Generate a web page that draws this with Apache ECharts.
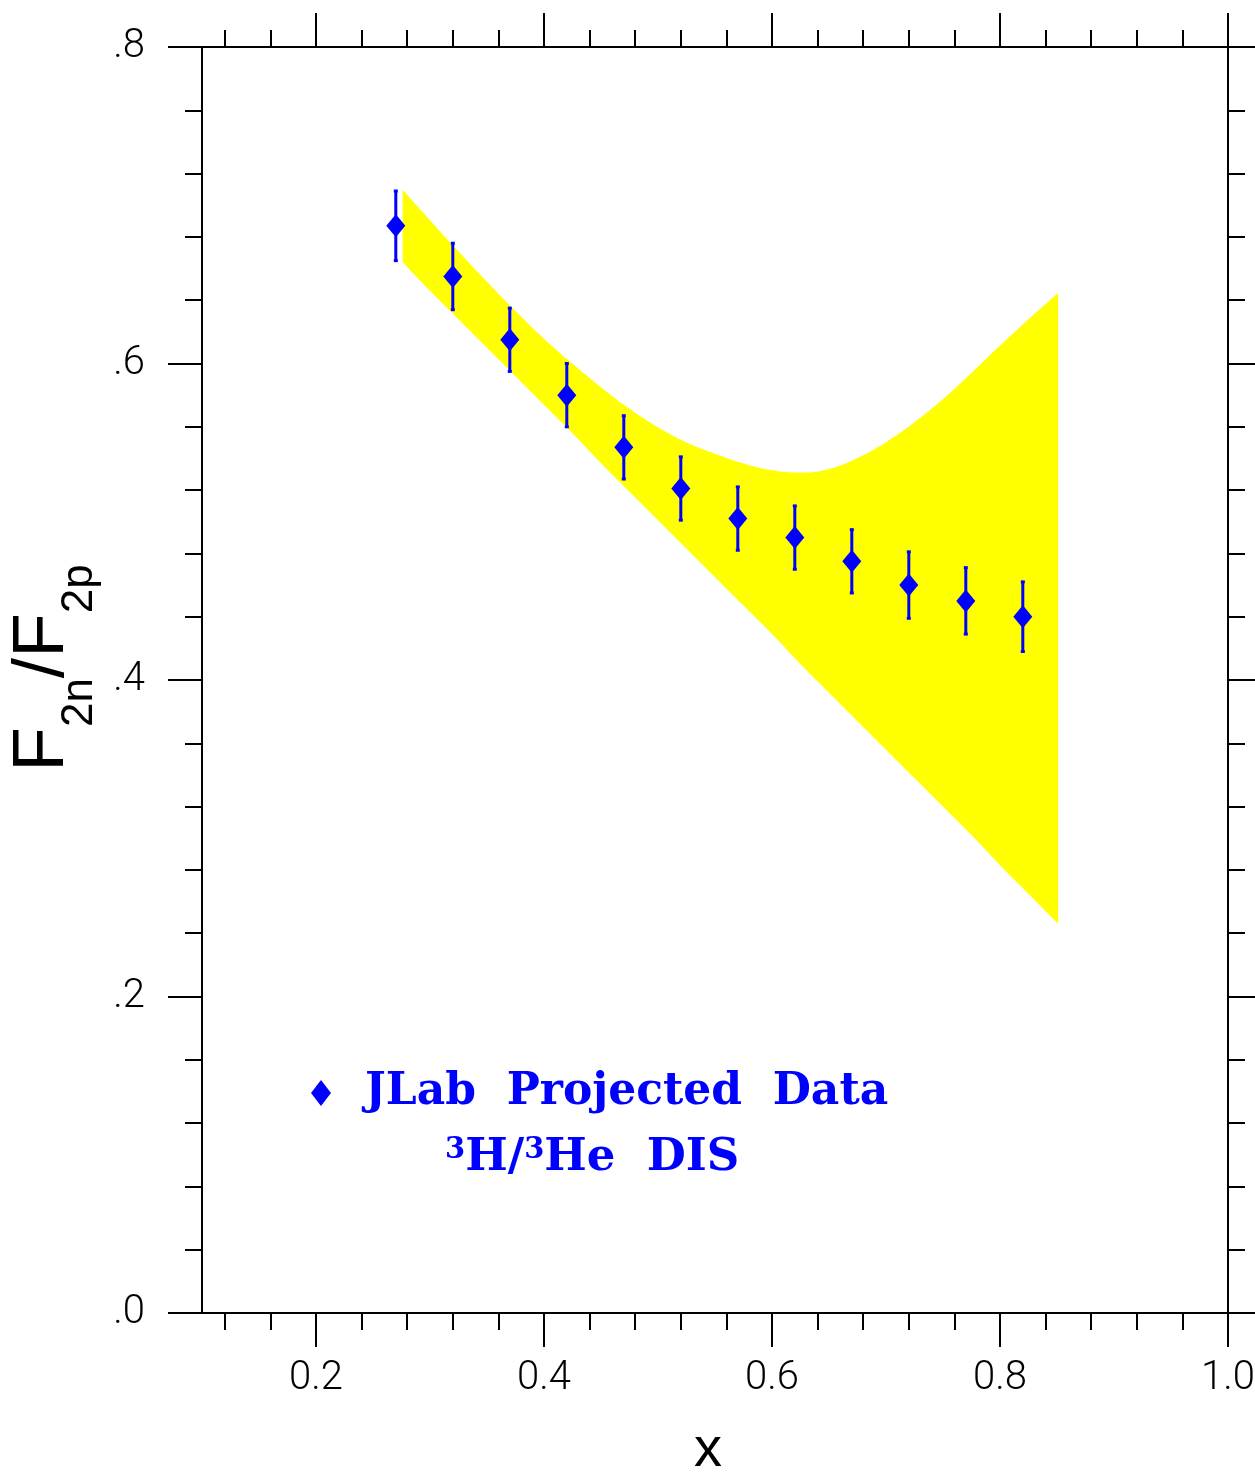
<!DOCTYPE html>
<html>
<head>
<meta charset="utf-8">
<script src="https://cdn.jsdelivr.net/npm/echarts@6/dist/echarts.min.js"></script>
<style>
html, body { margin: 0; padding: 0; background: #fff; }
#chart { width: 1255px; height: 1474px; }
</style>
</head>
<body>
<div id="chart"></div>
<script>
// projected points, F2n/F2p vs x
const xData = [0.27, 0.32, 0.37, 0.42, 0.47, 0.52, 0.57, 0.62, 0.67, 0.72, 0.77, 0.82]
const yData = [0.687, 0.655, 0.615, 0.580, 0.547, 0.521, 0.502, 0.490, 0.475, 0.460, 0.450, 0.440]
const yErr = [0.022, 0.021, 0.020, 0.020, 0.020, 0.020, 0.020, 0.020, 0.020, 0.021, 0.021, 0.022]

// yellow model band
const bandX = [0.276, 0.30, 0.325, 0.35, 0.375, 0.40, 0.425, 0.45, 0.475, 0.50, 0.525, 0.55,
  0.575, 0.60, 0.625, 0.65, 0.675, 0.70, 0.725, 0.75, 0.775, 0.80, 0.825, 0.851]
const bandUpper = [0.7098, 0.6906, 0.6708, 0.6516, 0.6331, 0.6156, 0.5998, 0.5850, 0.5714, 0.5597, 0.5501, 0.5430,
  0.5368, 0.5325, 0.5310, 0.5333, 0.5403, 0.5503, 0.5628, 0.5775, 0.5940, 0.6113, 0.6280, 0.6446]
const bandLower = [0.664, 0.646, 0.628, 0.610, 0.592, 0.574, 0.556, 0.537, 0.519, 0.501, 0.483, 0.465,
  0.447, 0.429, 0.410, 0.392, 0.374, 0.356, 0.338, 0.320, 0.302, 0.283, 0.265, 0.246]

// ticks
const xMajor = [0.2, 0.4, 0.6, 0.8, 1.0]
const xMinor = [0.12, 0.16, 0.24, 0.28, 0.32, 0.36, 0.44, 0.48, 0.52, 0.56, 0.64, 0.68, 0.72, 0.76, 0.84, 0.88, 0.92, 0.96]
const yMajor = [0, 0.2, 0.4, 0.6, 0.8]
const yMinor = [0.04, 0.08, 0.12, 0.16, 0.24, 0.28, 0.32, 0.36, 0.44, 0.48, 0.52, 0.56, 0.64, 0.68, 0.72, 0.76]

const BLUE = '#0000ff'
const YELLOW = '#ffff00'
const labelFont = { fontFamily: 'Roboto', fontWeight: 300, fontSize: 40, color: '#000' }

const makeAxis = (position, min, max, ticks, len, label) => ({
  type: 'value',
  position: position,
  min: min,
  max: max,
  gridIndex: 0,
  axisLine: { show: true, onZero: false, lineStyle: { color: '#000', width: 2 } },
  axisTick: { show: true, inside: false, length: len, customValues: ticks, lineStyle: { color: '#000', width: 2 } },
  splitLine: { show: false },
  axisLabel: label ? Object.assign({ show: true, customValues: ticks }, label) : { show: false }
})

const xAxes = [
  makeAxis('bottom', 0.1, 1.0, xMajor, 34, Object.assign({ margin: 46, formatter: v => v.toFixed(1) }, labelFont)),
  makeAxis('bottom', 0.1, 1.0, xMinor, 17),
  makeAxis('top', 0.1, 1.0, xMajor, 34),
  makeAxis('top', 0.1, 1.0, xMinor, 17)
]
xAxes[0].name = 'x'
xAxes[0].nameLocation = 'middle'
xAxes[0].nameGap = 110
xAxes[0].nameTextStyle = { fontFamily: 'Liberation Sans', fontSize: 56, color: '#000', padding: [0, 14, 0, 0] }

const yAxes = [
  makeAxis('left', 0, 0.8, yMajor, 34, Object.assign({ margin: 57, formatter: v => v.toFixed(1).replace(/^0/, '') }, labelFont)),
  makeAxis('left', 0, 0.8, yMinor, 17),
  makeAxis('right', 0, 0.8, yMajor, 34),
  makeAxis('right', 0, 0.8, yMinor, 17)
]
yAxes[0].name = '{F|F}{s|2n}{F|/F}{s|2p}'
yAxes[0].nameLocation = 'middle'
yAxes[0].nameRotate = 90
yAxes[0].nameGap = 90
yAxes[0].nameTextStyle = {
  color: '#000',
  padding: [0, 0, 0, 24],
  rich: {
    F: { fontFamily: 'Liberation Sans', fontSize: 73, color: '#000', verticalAlign: 'bottom', padding: [0, 0, 23, 0] },
    s: { fontFamily: 'Liberation Sans', fontSize: 44, color: '#000', verticalAlign: 'bottom' }
  }
}

const legendFont = { fontFamily: 'DejaVu Serif', fontWeight: 'bold', fontSize: 44, color: BLUE }

// band edges as [y, x] so the stack runs on y
const bandLowData = bandX.map((x, i) => [bandLower[i], x])
const bandGapData = bandX.map((x, i) => [bandUpper[i] - bandLower[i], x])

const option = {
  animation: false,
  backgroundColor: '#fff',
  grid: { left: 202, right: 27, top: 47, bottom: 161, containLabel: false, outerBoundsMode: 'none' },
  xAxis: xAxes,
  yAxis: yAxes,
  legend: {
    data: [{ name: 'JLab  Projected  Data', icon: 'diamond' }],
    left: 306,
    top: 1066,
    itemWidth: 20,
    itemHeight: 26,
    selectedMode: false,
    textStyle: Object.assign({ padding: [0, 0, 0, 29] }, legendFont)
  },
  title: {
    text: '{s|3}{b|H/}{s|3}{b|He  DIS}',
    left: 440,
    top: 1131,
    textStyle: {
      rich: {
        b: Object.assign({}, legendFont, { fontSize: 45 }),
        s: Object.assign({}, legendFont, { fontSize: 29, verticalAlign: 'top' })
      }
    }
  },
  series: [
    {
      // lower edge, invisible, the yellow area is stacked on it
      type: 'line',
      name: 'bandLow',
      stack: 'band',
      silent: true,
      smooth: 0.4,
      symbol: 'none',
      z: 1,
      encode: { x: 1, y: 0 },
      lineStyle: { width: 0, opacity: 0 },
      data: bandLowData
    },
    {
      type: 'line',
      name: 'bandHigh',
      stack: 'band',
      silent: true,
      smooth: 0.4,
      symbol: 'none',
      z: 1,
      encode: { x: 1, y: 0 },
      lineStyle: { width: 0, opacity: 0 },
      areaStyle: { color: YELLOW, opacity: 1 },
      data: bandGapData
    },
    {
      type: 'custom',
      name: 'errors',
      silent: true,
      z: 3,
      data: xData.map((x, i) => [x, yData[i] - yErr[i], yData[i] + yErr[i]]),
      renderItem: (params, api) => {
        const lo = api.coord([api.value(0), api.value(1)])
        const hi = api.coord([api.value(0), api.value(2)])
        const st = { stroke: BLUE, lineWidth: 3 }
        return {
          type: 'group',
          children: [
            { type: 'line', shape: { x1: lo[0], y1: lo[1], x2: hi[0], y2: hi[1] }, style: st },
            { type: 'line', shape: { x1: lo[0] - 2, y1: lo[1], x2: lo[0] + 2, y2: lo[1] }, style: st },
            { type: 'line', shape: { x1: hi[0] - 2, y1: hi[1], x2: hi[0] + 2, y2: hi[1] }, style: st }
          ]
        }
      }
    },
    {
      type: 'scatter',
      name: 'JLab  Projected  Data',
      symbol: 'diamond',
      symbolSize: [19, 23],
      z: 5,
      itemStyle: { color: BLUE, opacity: 1 },
      data: xData.map((x, i) => [x, yData[i]])
    }
  ]
}

const myChart = echarts.init(document.getElementById('chart'), null, { renderer: 'canvas' })
myChart.setOption(option)
</script>
</body>
</html>
